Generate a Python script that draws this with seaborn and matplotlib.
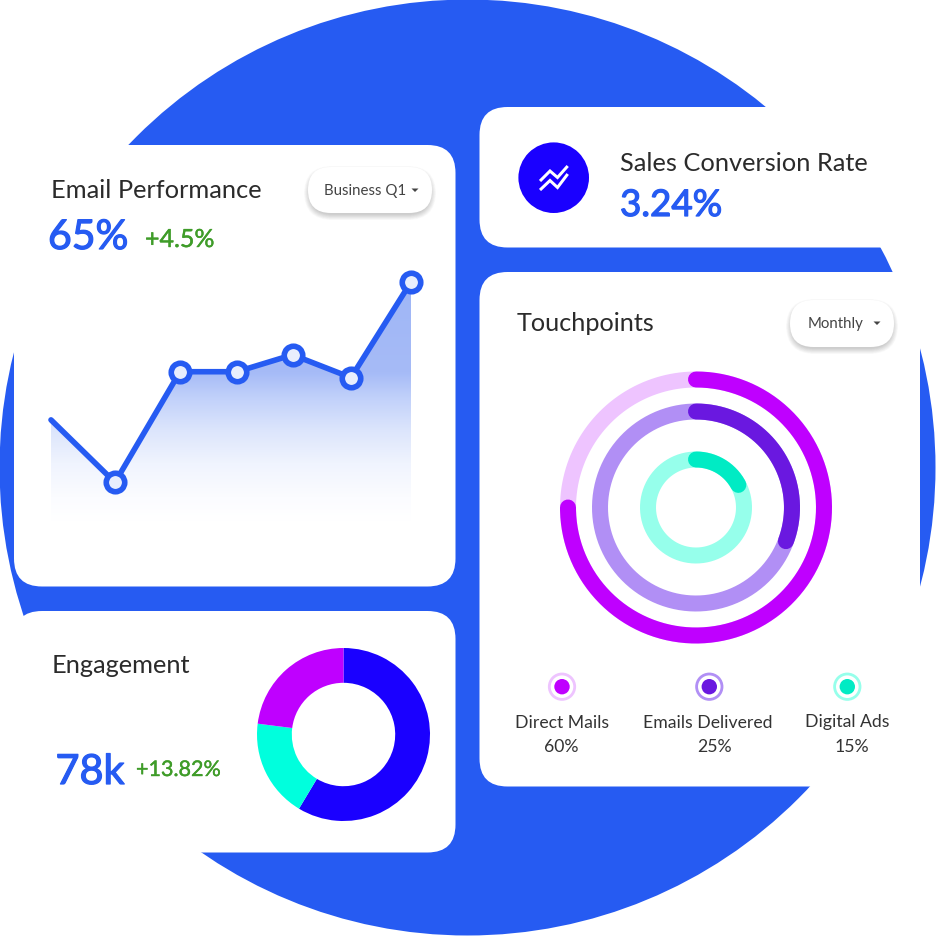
import numpy as np
import pandas as pd
import matplotlib
matplotlib.use("Agg")
import matplotlib.pyplot as plt
import matplotlib.patheffects as pe
from matplotlib.patches import Circle, FancyBboxPatch, Polygon
from matplotlib.colors import LinearSegmentedColormap
import seaborn as sns

# ---------- data ----------
email_x = [0, 64, 129, 186, 241.5, 300, 360]
email_y = [27.5, 10.5, 40.6, 40.6, 45.2, 39.0, 65.0]
engagement_labels = ["Blue", "Cyan", "Purple"]
engagement_vals = [58.6, 18.4, 23.0]
ring_labels = ["Direct Mails", "Emails Delivered", "Digital Ads"]
ring_shares = ["60%", "25%", "15%"]
ring_arcs = [0.75, 0.307, 0.172]

# ---------- colours ----------
BLUE = "#265BF2"
INDIGO = "#1A00FF"
GREEN = "#3F9C29"
DARK = "#2B2B2B"
GREY = "#444444"
ring_main = ["#BF00FF", "#6A18E0", "#00EBC4"]
ring_track = ["#EEC4FF", "#B18FF5", "#96FFEB"]
engagement_cols = [INDIGO, "#00FFDD", "#BF00FF"]

sns.set_theme(style="white")
plt.rcParams["font.family"] = ["Lato", "DejaVu Sans"]

W = 936
PX = 72 / 100  # points per pixel at dpi=100
fig = plt.figure(figsize=(W / 100, W / 100), dpi=100, facecolor="white")


def rect(x0, y0, x1, y1):
    return [x0 / W, 1 - y1 / W, (x1 - x0) / W, (y1 - y0) / W]


bg = fig.add_axes([0, 0, 1, 1], zorder=0)
bg.set_xlim(0, W)
bg.set_ylim(W, 0)
bg.axis("off")
bg.add_patch(Circle((467.5, 467.5), 468, color=BLUE, lw=0, zorder=1))


def card(x0, y0, x1, y1, r=28):
    bg.add_patch(FancyBboxPatch((x0, y0), x1 - x0, y1 - y0,
                                boxstyle=f"round,pad=0,rounding_size={r}",
                                fc="white", ec="none", zorder=2))


card(14, 145, 455.5, 586.5)
card(14, 611, 455.5, 852.5)
card(479.5, 107, 960, 247.5)
card(479.5, 272, 920, 786.5)


def label(x, y, s, size, color=DARK, stroke=0.0, ha="left"):
    t = bg.text(x, y, s, fontsize=size, color=color, ha=ha, va="baseline", zorder=6)
    if stroke:
        t.set_path_effects([pe.withStroke(linewidth=stroke, foreground=color)])


def pill(x0, y0, x1, y1, text, tx, ty, cx, cy):
    r = (y1 - y0) / 2
    for i in range(10):
        g = 5 - i * 0.6
        bg.add_patch(FancyBboxPatch((x0 - g + 1, y0 - g + 4), x1 - x0 + 2 * g - 2, y1 - y0 + 2 * g - 2,
                                    boxstyle=f"round,pad=0,rounding_size={r + g}",
                                    fc="black", ec="none", alpha=0.02, zorder=3))
    bg.add_patch(FancyBboxPatch((x0, y0), x1 - x0, y1 - y0,
                                boxstyle=f"round,pad=0,rounding_size={r}",
                                fc="white", ec="none", zorder=4))
    label(tx, ty, text, 10.8, GREY)
    bg.add_patch(Polygon([(cx - 3.5, cy - 1.5), (cx + 3.5, cy - 1.5), (cx, cy + 2)],
                         fc=GREY, ec="none", zorder=5))


pill(308, 167, 432, 213, "Business Q1", 323.5, 195, 415, 190)
pill(790, 300, 894, 347, "Monthly", 807.5, 328, 877, 323)

# ---------- texts ----------
label(51, 198, "Email Performance", 18.3)
label(48, 249, "65%", 29.5, BLUE, 0.9)
label(145, 247, "+4.5%", 18, GREEN, 0.3)
label(620, 171, "Sales Conversion Rate", 18.3)
label(620, 216, "3.24%", 26.5, BLUE, 0.9)
label(516.5, 331, "Touchpoints", 18.2)
label(51.5, 673, "Engagement", 18.3)
label(55.5, 784, "78k", 29.8, BLUE, 0.9)
label(136, 776, "+13.82%", 15.5, GREEN, 0.3)

# ---------- icon ----------
bg.add_patch(Circle((553.7, 177.7), 35.3, color=INDIGO, lw=0, zorder=3))
for ys in ([181, 171, 177.5, 166], [190, 180.5, 187.5, 174]):
    bg.plot([540, 550, 557.5, 567.7], ys, color="white", lw=3 * PX, zorder=4,
            solid_capstyle="butt", solid_joinstyle="miter")

# ---------- area + line chart ----------
ax = fig.add_axes(rect(51, 282, 411, 521), zorder=2)
ax.patch.set_alpha(0)
ax.set_xlim(0, 360)
ax.set_ylim(0, 65)
ax.axis("off")
stops = [(0.0, "#FFFFFF"), (0.10, "#FBFCFF"), (0.24, "#F0F4FE"), (0.38, "#DCE5FC"),
         (0.52, "#C0D0FA"), (0.62, "#A6BBF7"), (1.0, "#9FB6F6")]
cmap = LinearSegmentedColormap.from_list("fade", stops)
grad = ax.imshow(np.linspace(1, 0, 256).reshape(-1, 1), cmap=cmap, aspect="auto",
                 extent=(0, 360, 0, 65), vmin=0, vmax=1, zorder=1)
poly = ax.fill_between(email_x, email_y, 0, color="none", lw=0)
grad.set_clip_path(poly.get_paths()[0], transform=ax.transData)
df = pd.DataFrame({"x": email_x, "y": email_y})
sns.lineplot(data=df, x="x", y="y", ax=ax, color=BLUE, linewidth=5.6 * PX, sort=False,
             errorbar=None, zorder=3, clip_on=False, solid_capstyle="round", legend=False)
sns.scatterplot(data=df.iloc[1:], x="x", y="y", ax=ax, s=(18.5 * PX) ** 2,
                facecolor="#E8EEFD", edgecolor=BLUE, linewidth=5.6 * PX,
                zorder=4, clip_on=False, legend=False)
ax.set_xlabel("")
ax.set_ylabel("")

# ---------- engagement donut ----------
ax2 = fig.add_axes(rect(257, 648, 430, 821), zorder=2)
ax2.pie(engagement_vals, colors=engagement_cols, startangle=90, counterclock=False,
        radius=1, wedgeprops=dict(width=1 - 51.7 / 86.5, linewidth=0))
ax2.set_xlim(-1, 1)
ax2.set_ylim(-1, 1)

# ---------- touchpoint rings ----------
R = 140
cx, cy = 696, 507.5
ax3 = fig.add_axes(rect(cx - R, cy - R, cx + R, cy + R), projection="polar", zorder=2)
ax3.patch.set_alpha(0)
ax3.set_theta_zero_location("N")
ax3.set_theta_direction(-1)
ax3.set_rlim(0, R)
ax3.axis("off")
radii = [128, 96, 48]
for rad, frac, main, track in zip(radii, ring_arcs, ring_main, ring_track):
    full = np.linspace(0, 2 * np.pi, 360)
    ax3.plot(full, np.full_like(full, rad), color=track, lw=16 * PX, solid_capstyle="butt", zorder=1)
    arc = np.linspace(0, 2 * np.pi * frac, 200)
    ax3.plot(arc, np.full_like(arc, rad), color=main, lw=16 * PX, solid_capstyle="round", zorder=2)

# ---------- legend ----------
dot_x = [562, 709.3, 847.3]
name_x = [561.8, 707.3, 847.7]
share_x = [561, 714, 852.3]
for dx, nx, sx, name, share, main, track in zip(dot_x, name_x, share_x, ring_labels,
                                                 ring_shares, ring_main, ring_track):
    bg.add_patch(Circle((dx, 686.7), 12.7, fc="white", ec=track, lw=2.8 * PX, zorder=3))
    bg.add_patch(Circle((dx, 686.7), 7.7, fc=main, lw=0, zorder=4))
    label(nx, 727.5, name, 12.7, "#333333", ha="center")
    label(sx, 752, share, 12.7, "#333333", ha="center")

fig.savefig("out.png", dpi=100, facecolor="white")
